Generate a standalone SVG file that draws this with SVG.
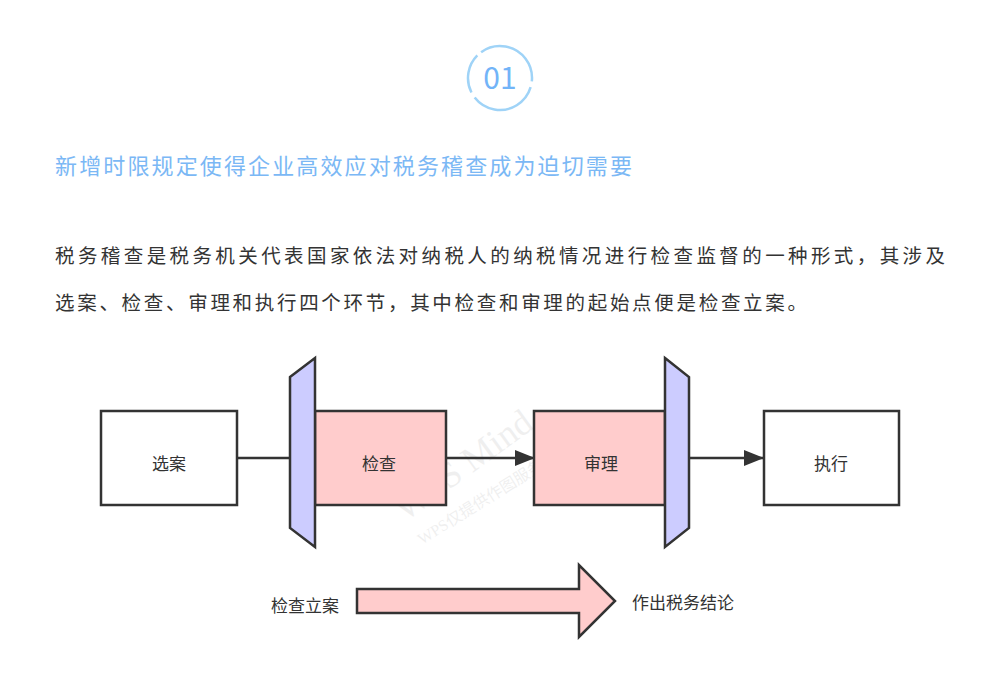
<svg xmlns="http://www.w3.org/2000/svg" width="999" height="681" viewBox="0 0 999 681">
<style>
.cjk{font-family:"Noto Sans CJK SC","Noto Sans",sans-serif}
.box{stroke:#333;stroke-width:2.5}
.lbl{font-family:"Noto Sans CJK SC","Noto Sans",sans-serif;font-size:17px;fill:#333;text-anchor:middle;dominant-baseline:central}
.edge{stroke:#333;stroke-width:2.5;fill:none}
.trap{fill:#ccccff;stroke:#333;stroke-width:2.5;stroke-linejoin:miter}
</style>
<defs>
<marker id="ah2" viewBox="0 0 20 16" refX="20" refY="8" markerWidth="20" markerHeight="16" markerUnits="userSpaceOnUse" orient="auto">
<path d="M0,0 L20,8 L0,16 z" fill="#333"/>
</marker>
</defs>
<rect width="999" height="681" fill="#fff"/>
<g id="badge">
<circle cx="500" cy="78" r="32" fill="none" stroke="#9fd3f7" stroke-width="2.5" stroke-dasharray="48 6 70 6 40 5" transform="rotate(-80 500 78)"/>
<text x="500" y="89" class="cjk" font-size="30" fill="#72b4f8" text-anchor="middle">01</text>
</g>
<text id="title" x="55" y="174" class="cjk" font-size="22" fill="#7bb8f5" textLength="577" lengthAdjust="spacing">新增时限规定使得企业高效应对税务稽查成为迫切需要</text>
<g id="body" class="cjk" font-size="19.5" fill="#333">
<text x="55" y="263" textLength="890" lengthAdjust="spacing">税务稽查是税务机关代表国家依法对纳税人的纳税情况进行检查监督的一种形式，其涉及</text>
<text x="55" y="310" textLength="752" lengthAdjust="spacing">选案、检查、审理和执行四个环节，其中检查和审理的起始点便是检查立案。</text>
</g>
<g id="watermark" class="cjk" fill="#000" opacity="0.06">
<text x="405" y="522" font-size="36" font-family="Liberation Serif,serif" transform="rotate(-36 405 522)">WPS Mind</text>
<text x="422" y="545" font-size="16" font-family="Liberation Serif,'Noto Sans CJK SC',serif" transform="rotate(-32 422 545)">WPS仅提供作图服务</text>
</g>
<g id="connectors">
<line class="edge" x1="237" y1="458" x2="290" y2="458"/>
<line class="edge" x1="446" y1="458" x2="535" y2="458" marker-end="url(#ah2)"/>
<line class="edge" x1="689" y1="458" x2="764" y2="458" marker-end="url(#ah2)"/>
</g>
<g id="n-xuanan">
<rect class="box" x="101" y="411" width="136" height="94" fill="#fff"/>
<text class="lbl" x="169" y="462">选案</text>
</g>
<g id="n-jiancha">
<rect class="box" x="315" y="411" width="131" height="94" fill="#ffcccc"/>
<text class="lbl" x="379" y="462">检查</text>
</g>
<g id="n-trap-left">
<polygon class="trap" points="290,377 315,358 315,547 290,528"/>
</g>
<g id="n-shenli">
<rect class="box" x="534" y="411" width="131" height="94" fill="#ffcccc"/>
<text class="lbl" x="601" y="462">审理</text>
</g>
<g id="n-trap-right">
<polygon class="trap" points="665,358 689,377 689,528 665,547"/>
</g>
<g id="n-zhixing">
<rect class="box" x="764" y="411" width="135" height="94" fill="#fff"/>
<text class="lbl" x="831" y="462">执行</text>
</g>
<g id="n-bigarrow">
<polygon points="357,589 579,589 579,565 615,601 579,637 579,613 357,613" fill="#ffcccc" stroke="#333" stroke-width="2.5"/>
</g>
<g id="n-start">
<text class="lbl" x="305" y="604">检查立案</text>
</g>
<g id="n-end">
<text class="lbl" x="683" y="601">作出税务结论</text>
</g>
</svg>
